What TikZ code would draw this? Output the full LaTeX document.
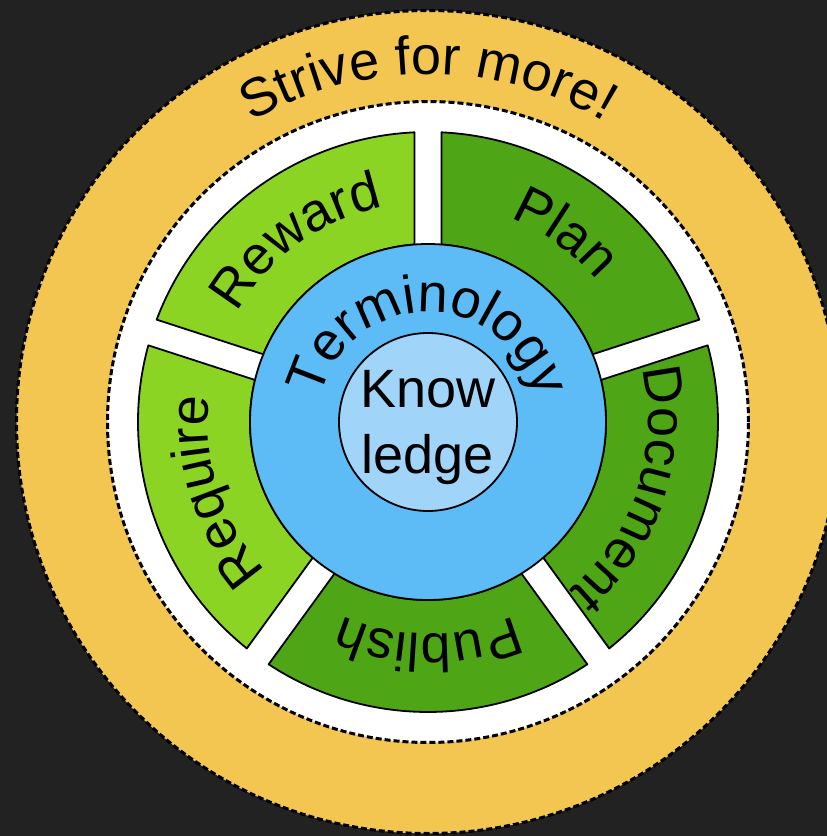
\documentclass[tikz,border=0pt]{standalone}
\usepackage{fontspec}
\setmainfont{Liberation Sans}
\usepackage{xcolor}
\usepackage{tikz}
\usetikzlibrary{decorations.text,calc}

\definecolor{bgdark}{HTML}{222222}
\definecolor{striveyellow}{HTML}{F2C651}
\definecolor{lightgreen}{HTML}{8CD424}
\definecolor{darkgreen}{HTML}{4EA516}
\definecolor{termblue}{HTML}{5DBBF5}
\definecolor{knowblue}{HTML}{A0D4F8}

\newcommand{\ringfont}{\fontsize{54}{66}\selectfont}
\tikzstyle{segment} = [draw=black, line width=1.8pt, line join=round]
\tikzstyle{dashring} = [circle, inner sep=0pt]
\tikzstyle{dashline} = [draw=black, line width=3pt, dash pattern=on 6pt off 3pt]
\tikzstyle{ringtext} = [decorate, decoration={text along path, text align=center}]

\begin{document}
\begin{tikzpicture}[x=1pt, y=1pt]
    \useasboundingbox (-428,-414) rectangle (399,422);
    \fill[bgdark] (-428,-414) rectangle (399,422);

    % Outer rings
    \node[dashring, fill=striveyellow, minimum size=823pt] (strive) at (0,0) {};
    \draw[dashline] (strive.center) circle[radius=411.5];
    \node[dashring, fill=white, minimum size=641pt] (whitering) at (0,0) {};
    \draw[dashline] (whitering.center) circle[radius=320.5];

    % Plan
    \draw[segment, fill=darkgreen] (20.67:290) arc[start angle=20.67, end angle=87.33, radius=290]
        -- (85.65:178) arc[start angle=85.65, end angle=22.35, radius=178] -- cycle;
    % Reward
    \draw[segment, fill=lightgreen] (92.67:290) arc[start angle=92.67, end angle=159.33, radius=290]
        -- (157.65:178) arc[start angle=157.65, end angle=94.35, radius=178] -- cycle;
    % Require
    \draw[segment, fill=lightgreen] (164.67:290) arc[start angle=164.67, end angle=231.33, radius=290]
        -- (229.65:178) arc[start angle=229.65, end angle=166.35, radius=178] -- cycle;
    % Publish
    \draw[segment, fill=darkgreen] (236.67:290) arc[start angle=236.67, end angle=303.33, radius=290]
        -- (301.65:178) arc[start angle=301.65, end angle=238.35, radius=178] -- cycle;
    % Document
    \draw[segment, fill=darkgreen] (308.67:290) arc[start angle=308.67, end angle=375.33, radius=290]
        -- (373.65:178) arc[start angle=373.65, end angle=310.35, radius=178] -- cycle;

    % Inner circles
    \node[circle, draw=black, line width=1.8pt, fill=termblue, minimum size=356pt, inner sep=0pt] (terminology) at (0,0) {};
    \node[circle, draw=black, line width=1.8pt, fill=knowblue, minimum size=178pt, inner sep=0pt] (knowledge) at (0,0) {};
    \node[font=\ringfont, anchor=base, inner sep=0pt] (know) at ([yshift=15]knowledge.center) {Know};
    \node[font=\ringfont, anchor=base, inner sep=0pt] (ledge) at ([yshift=-51]knowledge.center) {ledge};

    % Texts along the rings
    \path[ringtext, decoration={text={|\ringfont|Strive for more!}}] (132:348) arc[start angle=132, end angle=48, radius=348];
    \path[ringtext, decoration={text={|\ringfont|Terminology}}] (178:110) arc[start angle=178, end angle=2, radius=110];
    \path[ringtext, decoration={text={|\ringfont|Plan}}] (84:220) arc[start angle=84, end angle=24, radius=220];
    \path[ringtext, decoration={text={|\ringfont|Reward}}] (156:220) arc[start angle=156, end angle=96, radius=220];
    \path[ringtext, decoration={text={|\ringfont|Require}}] (230:220) arc[start angle=230, end angle=166, radius=220];
    \path[ringtext, decoration={text={|\ringfont|Publish}}] (302:212) arc[start angle=302, end angle=238, radius=212];
    \path[ringtext, decoration={text={|\ringfont|Document}}] (17:220) arc[start angle=17, end angle=-53, radius=220];
\end{tikzpicture}
\end{document}
